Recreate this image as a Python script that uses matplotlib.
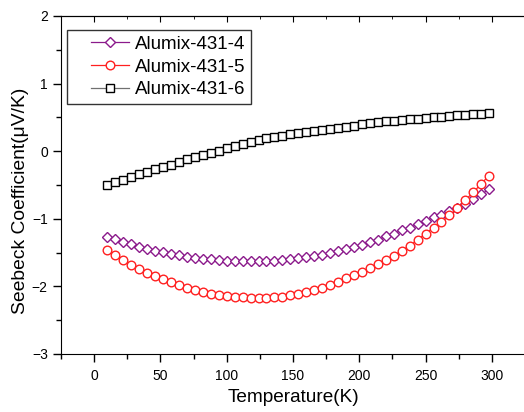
import matplotlib
matplotlib.use('Agg')
import matplotlib.pyplot as plt
from matplotlib.ticker import MultipleLocator
from matplotlib.legend_handler import HandlerLine2D

plt.rcParams['font.family'] = ['Liberation Sans', 'DejaVu Sans']

# Temperature (K)
temperature = [10, 16, 22, 28, 34, 40, 46, 52, 58, 64,
               70, 76, 82, 88, 94, 100, 106, 112, 118, 124,
               130, 136, 142, 148, 154, 160, 166, 172, 178, 184,
               190, 196, 202, 208, 214, 220, 226, 232, 238, 244,
               250, 256, 262, 268, 274, 280, 286, 292, 298]

# Seebeck coefficient (uV/K)
alumix_4 = [-1.27, -1.30, -1.34, -1.38, -1.41, -1.44, -1.47, -1.49, -1.52, -1.54,
            -1.56, -1.58, -1.59, -1.60, -1.61, -1.62, -1.63, -1.63, -1.63, -1.63,
            -1.62, -1.62, -1.61, -1.59, -1.58, -1.56, -1.55, -1.53, -1.51, -1.48,
            -1.45, -1.42, -1.39, -1.35, -1.31, -1.26, -1.22, -1.17, -1.13, -1.08,
            -1.03, -0.98, -0.94, -0.89, -0.84, -0.78, -0.71, -0.64, -0.56]

alumix_5 = [-1.46, -1.54, -1.61, -1.68, -1.74, -1.80, -1.85, -1.89, -1.93, -1.98,
            -2.02, -2.05, -2.08, -2.11, -2.13, -2.14, -2.15, -2.16, -2.17, -2.17,
            -2.17, -2.16, -2.15, -2.13, -2.11, -2.08, -2.05, -2.02, -1.98, -1.93,
            -1.88, -1.83, -1.78, -1.73, -1.67, -1.61, -1.55, -1.47, -1.40, -1.31,
            -1.22, -1.13, -1.05, -0.95, -0.84, -0.72, -0.61, -0.48, -0.36]

alumix_6 = [-0.50, -0.46, -0.42, -0.38, -0.34, -0.31, -0.27, -0.23, -0.20, -0.16,
            -0.12, -0.09, -0.06, -0.02, 0.01, 0.05, 0.07, 0.10, 0.13, 0.16,
            0.19, 0.21, 0.23, 0.25, 0.27, 0.29, 0.30, 0.31, 0.33, 0.35,
            0.36, 0.38, 0.40, 0.41, 0.43, 0.44, 0.45, 0.46, 0.47, 0.48,
            0.49, 0.50, 0.51, 0.52, 0.53, 0.54, 0.55, 0.555, 0.56]


# legend handle with blank space in front of the line (Origin style)
class PaddedHandler(HandlerLine2D):
    pad = 12.9

    def create_artists(self, legend, orig_handle, xdescent, ydescent,
                       width, height, fontsize, trans):
        return super().create_artists(legend, orig_handle, xdescent - self.pad,
                                      ydescent, width - self.pad, height,
                                      fontsize, trans)


fig = plt.figure(figsize=(5.24, 4.12), dpi=100)
ax = fig.add_axes([61/524, 58/412, 464/524, 338/412])

ax.plot(temperature, alumix_4, color='#8B1A8B', lw=0.9, marker='D', ms=5.5,
        mfc='white', mec='#8B1A8B', mew=1.0, label='Alumix-431-4')
ax.plot(temperature, alumix_5, color='#FF2020', lw=0.9, marker='o', ms=6.2,
        mfc='white', mec='#FF2020', mew=1.0, label='Alumix-431-5')
ax.plot(temperature, alumix_6, color='#707070', lw=0.9, marker='s', ms=5.2,
        mfc='white', mec='black', mew=1.0, label='Alumix-431-6')

ax.set_xlim(-25, 325)
ax.set_ylim(-3, 2)
ax.xaxis.set_major_locator(MultipleLocator(50))
ax.xaxis.set_minor_locator(MultipleLocator(25))
ax.yaxis.set_major_locator(MultipleLocator(1))
ax.yaxis.set_minor_locator(MultipleLocator(0.5))
ax.tick_params(which='major', direction='out', length=6, width=1, labelsize=10)
ax.tick_params(which='minor', direction='out', length=3.5, width=1)
ax.tick_params(axis='x', which='major', pad=5)

# small inward ticks along the top frame
top = ax.secondary_xaxis('top')
top.xaxis.set_major_locator(MultipleLocator(50))
top.xaxis.set_minor_locator(MultipleLocator(25))
top.tick_params(which='major', direction='in', length=4, labeltop=False)
top.tick_params(which='minor', direction='in', length=2.5)

ax.set_xlabel('Temperature(K)', fontsize=13.7, labelpad=4)
ax.set_ylabel('Seebeck Coefficient(\u03bcV/K)', fontsize=13.9)
ax.yaxis.set_label_coords(-0.068, 0.453)

leg = ax.legend(loc='upper left', bbox_to_anchor=(6/464, 324/338), fontsize=13.5,
                frameon=True, fancybox=False, edgecolor='black',
                handlelength=2.98, handletextpad=0.32, labelspacing=0.3,
                borderpad=0.3, borderaxespad=0,
                handler_map={plt.Line2D: PaddedHandler()})
leg.get_frame().set_linewidth(1.0)

plt.savefig('out.png', dpi=100)
